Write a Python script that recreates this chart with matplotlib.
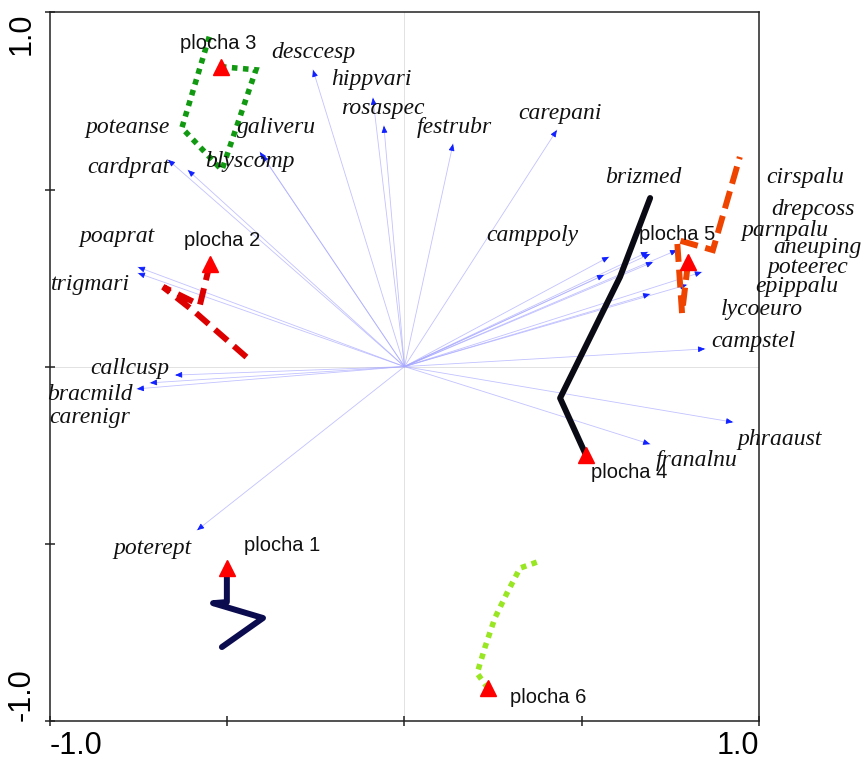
import numpy as np
import matplotlib.pyplot as plt

# species scores (arrow tips) on axes 1 and 2
species = ['desccesp', 'hippvari', 'rosaspec', 'festrubr', 'carepani',
           'galiveru', 'blyscomp', 'poteanse', 'cardprat', 'poaprat',
           'trigmari', 'callcusp', 'bracmild', 'carenigr', 'poterept',
           'camppoly', 'lycoeuro', 'parnpalu', 'brizmed', 'drepcoss',
           'cirspalu', 'aneuping', 'poteerec', 'epippalu', 'campstel',
           'phraaust', 'franalnu']
sp_x = [-0.258, -0.089, -0.058, 0.137, 0.430,
        -0.408, -0.402, -0.611, -0.667, -0.752,
        -0.752, -0.647, -0.718, -0.755, -0.585,
        0.577, 0.563, 0.693, 0.687, 0.701,
        0.769, 0.839, 0.797, 0.693, 0.848,
        0.927, 0.693]
sp_y = [0.838, 0.759, 0.680, 0.629, 0.668,
        0.606, 0.598, 0.555, 0.584, 0.281,
        0.264, -0.024, -0.046, -0.063, -0.462,
        0.310, 0.259, 0.318, 0.324, 0.295,
        0.329, 0.267, 0.231, 0.205, 0.050,
        -0.157, -0.219]

# where each species name sits
lab_x = [-0.258, -0.092, -0.061, 0.140, 0.439,
         -0.360, -0.436, -0.780, -0.780, -0.811,
         -0.887, -0.774, -0.887, -0.887, -0.712,
         0.362, 1.008, 1.073, 0.673, 1.152,
         1.130, 1.166, 1.138, 1.107, 0.983,
         1.059, 0.825]
lab_y = [0.886, 0.810, 0.730, 0.676, 0.716,
         0.674, 0.578, 0.674, 0.561, 0.366,
         0.231, -0.004, -0.080, -0.145, -0.513,
         0.369, 0.160, 0.383, 0.535, 0.445,
         0.535, 0.335, 0.279, 0.225, 0.070,
         -0.205, -0.264]

# sample trajectories; first point is the plot marker
plots = ['plocha 1', 'plocha 2', 'plocha 3', 'plocha 4', 'plocha 5', 'plocha 6']
traj_x = [[-0.501, -0.501, -0.540, -0.399, -0.515],
          [-0.549, -0.577, -0.681, -0.591, -0.430],
          [-0.518, -0.419, -0.515, -0.628, -0.549],
          [0.512, 0.439, 0.608, 0.693],
          [0.800, 0.783, 0.769, 0.870, 0.946],
          [0.235, 0.205, 0.227, 0.255, 0.289, 0.326, 0.374]]
traj_y = [[-0.569, -0.665, -0.668, -0.710, -0.792],
          [0.290, 0.174, 0.225, 0.154, 0.013],
          [0.847, 0.838, 0.555, 0.674, 0.937],
          [-0.250, -0.089, 0.253, 0.476],
          [0.295, 0.151, 0.358, 0.329, 0.592],
          [-0.908, -0.866, -0.793, -0.710, -0.640, -0.569, -0.552]]
plot_lab_x = [-0.345, -0.515, -0.525, 0.635, 0.770, 0.405]
plot_lab_y = [-0.504, 0.355, 0.913, -0.300, 0.374, -0.934]

traj_style = [
    dict(color='#0b0b4f', lw=4.3, ls='-', solid_joinstyle='round'),
    dict(color='#dd0000', lw=4.3, dashes=(2.8, 1.4), dash_joinstyle='miter'),
    dict(color='#119911', lw=4.0, dashes=(1, 1), dash_joinstyle='miter'),
    dict(color='#0a0a14', lw=4.3, ls='-', solid_joinstyle='round'),
    dict(color='#ee4400', lw=4.3, dashes=(3.0, 1.3), dash_joinstyle='miter'),
    dict(color='#99e622', lw=4.0, dashes=(1, 1), dash_joinstyle='miter'),
]

fig = plt.figure(figsize=(8.66, 7.6), dpi=100)
ax = fig.add_axes([0.0577, 0.0517, 0.8187, 0.9319])
ax.set_xlim(-1, 1)
ax.set_ylim(-1, 1)

ax.axhline(0, color='#dddddd', lw=0.6, zorder=0)
ax.axvline(0, color='#dddddd', lw=0.6, zorder=0)

# species arrows
for name, x, y, lx, ly in zip(species, sp_x, sp_y, lab_x, lab_y):
    ax.plot([0, x], [0, y], color='#a8a8ff', lw=0.6, alpha=0.7, zorder=1)
    ax.annotate('', xy=(x, y), xytext=(0.98 * x, 0.98 * y),
                arrowprops=dict(arrowstyle='-|>,head_length=0.4,head_width=0.17',
                                color='#1020ff', lw=0.6, shrinkA=0, shrinkB=0),
                zorder=2)
    ax.text(lx, ly, name, fontsize=17, family='Liberation Serif', style='italic',
            ha='center', va='center', color='#111111', zorder=4, clip_on=False)

# sample trajectories
for name, xs, ys, st, px, py in zip(plots, traj_x, traj_y, traj_style,
                                    plot_lab_x, plot_lab_y):
    ax.plot(xs, ys, solid_capstyle='round', zorder=3, **st)
    ax.plot(xs[0], ys[0], marker='^', color='#ff0000', ms=12, zorder=5)
    ax.text(px, py, name, fontsize=14.5, family='Liberation Sans',
            ha='center', va='center', color='#111111', zorder=6)

ticks = [-1, -0.5, 0, 0.5, 1]
ax.set_xticks(ticks)
ax.set_yticks(ticks)
ax.set_xticklabels(['-1.0', '', '', '', '1.0'], family='Liberation Sans', fontsize=22)
ax.set_yticklabels(['-1.0', '', '', '', '1.0'], family='Liberation Sans', fontsize=22,
                   rotation=90)
ax.tick_params(direction='inout', length=7, width=1.1, color='#222222', pad=4)
ax.tick_params(axis='y', pad=6)
xl = ax.get_xticklabels()
xl[0].set_ha('left')
xl[-1].set_ha('right')
yl = ax.get_yticklabels()
yl[0].set_va('bottom')
yl[-1].set_va('top')
for t in yl:
    t.set_ha('right')

for s in ax.spines.values():
    s.set_linewidth(1.1)
    s.set_color('#222222')

fig.savefig('out.png', dpi=100)
